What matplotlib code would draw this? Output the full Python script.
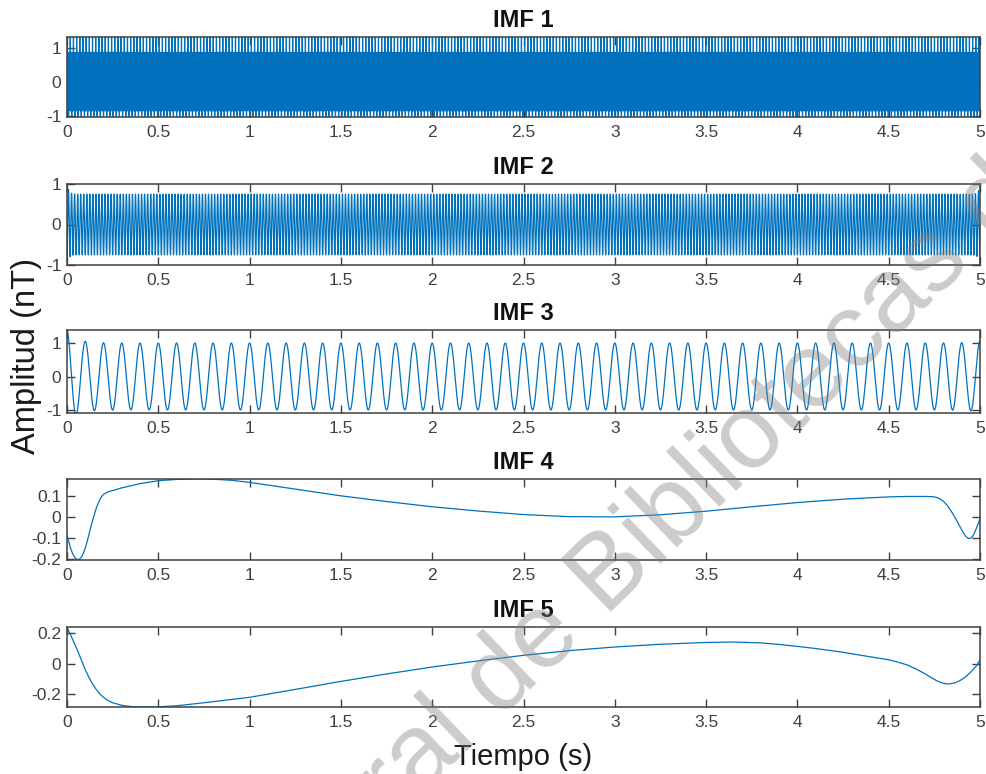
import numpy as np
import matplotlib.pyplot as plt

plt.rcParams['font.family'] = ['Liberation Sans', 'DejaVu Sans']
plt.rcParams['axes.unicode_minus'] = False

# time base of the decomposition
fs = 5000
duration = 5.0

# IMF 1: fast carrier with short bursts
imf1_freq = 210.0
imf1_amp = 0.86
imf1_burst_rate = 57.0
imf1_burst_top = 1.31
imf1_burst_bottom = -1.04

# IMF 2: ~60 Hz tone with edge overshoot
imf2_freq = 60.0
imf2_amp = 0.75
imf2_edge_start = 0.25
imf2_edge_end = 0.20

# IMF 3: 10 Hz tone with edge overshoot
imf3_freq = 10.0
imf3_amp = 1.0
imf3_edge_start = 0.38
imf3_edge_end = 0.07

# IMF 4 (time, amplitude)
imf4_t = [0.00, 0.01, 0.02, 0.03, 0.04, 0.05, 0.06, 0.07, 0.08, 0.09, 0.10,
          0.11, 0.12, 0.13, 0.14, 0.15, 0.16, 0.17, 0.18, 0.19, 0.20, 0.22,
          0.24, 0.27, 0.30, 0.40, 0.50, 0.60, 0.70, 0.80, 0.90, 1.00, 1.25,
          1.50, 1.75, 2.00, 2.25, 2.50, 2.75, 3.00, 3.25, 3.50, 3.75, 4.00,
          4.25, 4.50, 4.60, 4.70, 4.74, 4.76, 4.78, 4.80, 4.82, 4.84, 4.86,
          4.88, 4.90, 4.91, 4.92, 4.93, 4.94, 4.95, 4.96, 4.97, 4.98, 4.99,
          5.00]
imf4_v = [-0.087, -0.120, -0.150, -0.173, -0.190, -0.200, -0.203, -0.200,
          -0.190, -0.172, -0.148, -0.118, -0.085, -0.050, -0.018, 0.012,
          0.040, 0.063, 0.082, 0.097, 0.107, 0.117, 0.123, 0.130, 0.138,
          0.158, 0.172, 0.178, 0.180, 0.179, 0.174, 0.164, 0.132, 0.100,
          0.073, 0.048, 0.028, 0.011, 0.001, 0.000, 0.010, 0.027, 0.048,
          0.068, 0.084, 0.095, 0.097, 0.097, 0.096, 0.093, 0.086, 0.074,
          0.055, 0.030, 0.002, -0.030, -0.062, -0.077, -0.090, -0.099,
          -0.103, -0.101, -0.092, -0.075, -0.055, -0.032, -0.008]

# IMF 5 (time, amplitude)
imf5_t = [0.00, 0.02, 0.04, 0.06, 0.08, 0.10, 0.12, 0.14, 0.16, 0.18, 0.20,
          0.22, 0.25, 0.30, 0.35, 0.40, 0.50, 0.60, 0.75, 1.00, 1.25, 1.50,
          1.75, 2.00, 2.25, 2.50, 2.75, 3.00, 3.25, 3.50, 3.65, 3.80, 3.90,
          4.00, 4.10, 4.25, 4.40, 4.50, 4.55, 4.60, 4.65, 4.70, 4.74, 4.77,
          4.80, 4.83, 4.86, 4.89, 4.92, 4.95, 4.98, 5.00]
imf5_v = [0.240, 0.190, 0.135, 0.080, 0.020, -0.040, -0.090, -0.135, -0.170,
          -0.200, -0.222, -0.240, -0.258, -0.275, -0.283, -0.286, -0.285,
          -0.278, -0.258, -0.222, -0.170, -0.117, -0.068, -0.022, 0.018,
          0.055, 0.086, 0.110, 0.128, 0.140, 0.143, 0.137, 0.127, 0.114,
          0.100, 0.075, 0.045, 0.026, 0.010, -0.008, -0.035, -0.068, -0.097,
          -0.117, -0.130, -0.134, -0.128, -0.112, -0.088, -0.055, -0.015,
          0.025]

titles = ['IMF 1', 'IMF 2', 'IMF 3', 'IMF 4', 'IMF 5']
ylims = [(-1.04, 1.31), (-1.0, 1.0), (-1.09, 1.39), (-0.205, 0.18), (-0.286, 0.242)]
yticks = [[-1, 0, 1], [-1, 0, 1], [-1, 0, 1], [-0.2, -0.1, 0, 0.1], [-0.2, 0, 0.2]]
ytick_labels = [['-1', '0', '1'], ['-1', '0', '1'], ['-1', '0', '1'],
                ['-0.2', '-0.1', '0', '0.1'], ['-0.2', '0', '0.2']]
xticks = [0, 0.5, 1, 1.5, 2, 2.5, 3, 3.5, 4, 4.5, 5]
xtick_labels = ['0', '0.5', '1', '1.5', '2', '2.5', '3', '3.5', '4', '4.5', '5']

t = np.arange(0, int(duration * fs) + 1) / fs

imf1 = imf1_amp * np.sin(2 * np.pi * imf1_freq * t)
step = int(fs / imf1_burst_rate)
imf1[3::step] = imf1_burst_top
imf1[step // 2::step] = imf1_burst_bottom

env2 = imf2_amp + imf2_edge_start * np.exp(-t / 0.01) + imf2_edge_end * np.exp(-(duration - t) / 0.01)
imf2 = -env2 * np.cos(2 * np.pi * imf2_freq * t)

env3 = imf3_amp + imf3_edge_start * np.exp(-t / 0.05) + imf3_edge_end * np.exp(-(duration - t) / 0.05)
imf3 = env3 * np.cos(2 * np.pi * imf3_freq * t)

series = [(t, imf1), (t, imf2), (t, imf3), (imf4_t, imf4_v), (imf5_t, imf5_v)]

fig = plt.figure(figsize=(9.87, 7.74), dpi=100)

# axes boxes in pixels: (top, bottom)
boxes = [(37, 117), (184, 265), (330, 413), (479, 560), (627, 707)]
W, H = 987.0, 774.0
left, right = 67, 980

line_color = '#0072BD'
axis_color = '#404040'

for i, (x, y) in enumerate(series):
    top, bot = boxes[i]
    ax = fig.add_axes([left / W, 1 - bot / H, (right - left) / W, (bot - top) / H])
    ax.plot(x, y, color=line_color, lw=0.9)
    ax.set_xlim(0, 5)
    ax.set_ylim(*ylims[i])
    ax.set_xticks(xticks)
    ax.set_xticklabels(xtick_labels)
    ax.set_yticks(yticks[i])
    ax.set_yticklabels(ytick_labels[i])
    ax.tick_params(direction='in', top=True, right=True, length=6, width=1.0,
                   colors=axis_color, labelsize=12.5, pad=6)
    ax.tick_params(axis='y', pad=4)
    for s in ax.spines.values():
        s.set_color(axis_color)
        s.set_linewidth(1.1)
    ax.set_title(titles[i], fontsize=17, fontweight='bold', color='#111111', pad=7)

fig.text(523 / W, 1 - 757 / H, 'Tiempo (s)', fontsize=21, color='#1a1a1a',
         ha='center', va='center')
fig.text(27 / W, 1 - 356 / H, 'Amplitud (nT)', fontsize=23.5, color='#1a1a1a',
         ha='center', va='center', rotation=90)

# diagonal library watermark over the panels
fig.text(-129 / W, 1 - 1326 / H, 'Dirección General de Bibliotecas de la UNAM',
         fontsize=76, color='#808080', alpha=0.4, rotation=44,
         rotation_mode='anchor', ha='left', va='baseline')

fig.savefig('out.png', dpi=100)
